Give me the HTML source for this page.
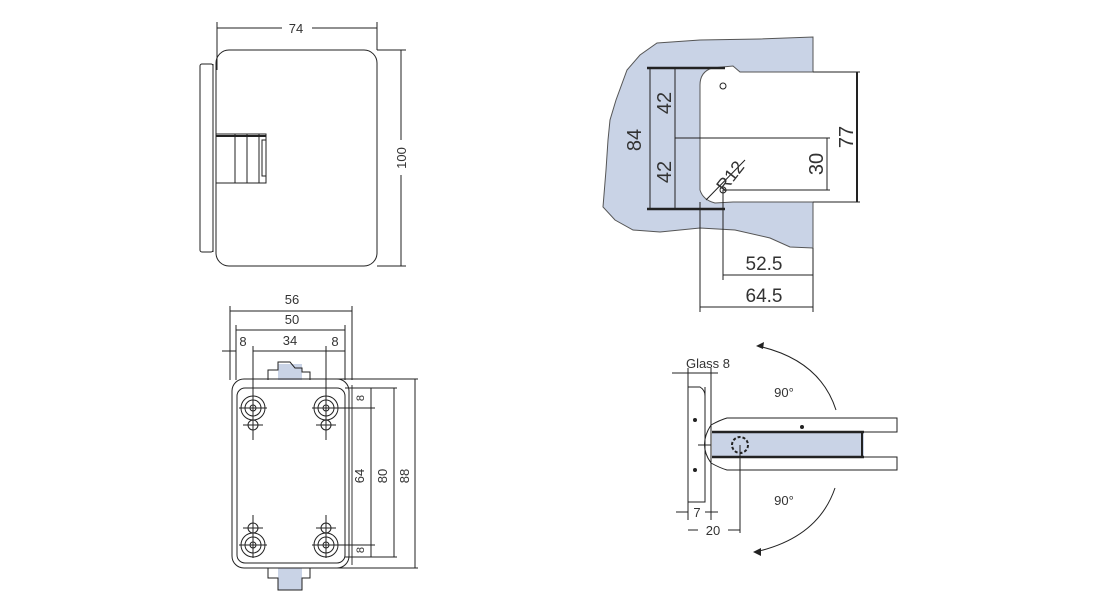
<!DOCTYPE html>
<html><head><meta charset="utf-8"><style>
html,body{margin:0;padding:0;background:#fff;width:1099px;height:600px;overflow:hidden}
svg{display:block}
text{font-family:"Liberation Sans",sans-serif;fill:#333}
</style></head><body>
<svg width="1099" height="600" viewBox="0 0 1099 600" xmlns="http://www.w3.org/2000/svg">
<g fill="none" stroke="#222" stroke-width="1">
<!-- View 1 -->
<line x1="217" y1="22" x2="217" y2="70"/><line x1="377" y1="22" x2="377" y2="50"/>
<line x1="217" y1="28" x2="282" y2="28"/><line x1="312" y1="28" x2="377" y2="28"/>
<rect x="216" y="50" width="161" height="216" rx="13"/>
<rect x="200" y="64" width="13" height="188" rx="2"/>
<line x1="213" y1="64" x2="213" y2="252"/>
<rect x="216" y="134" width="50" height="49"/>
<line x1="235" y1="134" x2="235" y2="183"/><line x1="247" y1="134" x2="247" y2="183"/><line x1="259" y1="134" x2="259" y2="183"/>
<rect x="262" y="140" width="4" height="36"/>
<line x1="216" y1="136" x2="266" y2="136" stroke-width="2"/>
<line x1="377" y1="50" x2="406" y2="50"/><line x1="377" y1="266" x2="406" y2="266"/>
<line x1="401" y1="50" x2="401" y2="140"/><line x1="401" y1="175" x2="401" y2="266"/>
</g>
<text x="296" y="33" font-size="13" text-anchor="middle">74</text>
<text transform="translate(406,158) rotate(-90)" font-size="13" text-anchor="middle">100</text>

<!-- View 2 -->
<path d="M657,43 L700,40 L760,39 L813,37 L813,72 L740,72 L733,66 L712,68 Q700,72 700,85 L700,190 Q703,200 715,203 L733,202 L813,202 L813,248 L790,247 L770,238 L735,230 L700,228 L660,232 L633,230 L615,220 L603,207 L606,170 L608,140 L610,120 L616,100 L627,70 L640,55 Z" fill="#c9d3e6" stroke="#555" stroke-width="1"/>
<g fill="none" stroke="#222" stroke-width="1">
<line x1="647" y1="68" x2="725" y2="68" stroke-width="2.5"/>
<line x1="647" y1="209" x2="725" y2="209" stroke-width="2.5"/>
<line x1="650" y1="68" x2="650" y2="209"/>
<line x1="675" y1="68" x2="675" y2="209"/>
<line x1="675" y1="138" x2="830" y2="138"/>
<line x1="813" y1="72" x2="860" y2="72"/><line x1="813" y1="202" x2="860" y2="202"/>
<line x1="857" y1="72" x2="857" y2="202" stroke-width="2"/>
<line x1="827" y1="138" x2="827" y2="190"/>
<line x1="723" y1="190" x2="830" y2="190"/>
<circle cx="723" cy="190" r="3"/>
<circle cx="723" cy="86" r="3"/>
<line x1="723" y1="190" x2="723" y2="280"/>
<line x1="700" y1="202" x2="700" y2="312"/>
<line x1="813" y1="248" x2="813" y2="312"/>
<line x1="723" y1="275" x2="813" y2="275"/>
<line x1="700" y1="307" x2="813" y2="307"/>
<line x1="706" y1="200" x2="745" y2="160"/>
</g>
<text transform="translate(641,140) rotate(-90)" font-size="20" text-anchor="middle">84</text>
<text transform="translate(671,103) rotate(-90)" font-size="20" text-anchor="middle">42</text>
<text transform="translate(671,172) rotate(-90)" font-size="20" text-anchor="middle">42</text>
<text transform="translate(853,137) rotate(-90)" font-size="20" text-anchor="middle">77</text>
<text transform="translate(823,164) rotate(-90)" font-size="20" text-anchor="middle">30</text>
<text transform="translate(735,180) rotate(-52)" font-size="18" text-anchor="middle">R12</text>
<text x="764" y="270" font-size="19" text-anchor="middle">52.5</text>
<text x="764" y="302" font-size="19" text-anchor="middle">64.5</text>

<!-- View 3 -->
<rect x="278" y="364" width="24" height="16" fill="#c9d3e6"/>
<rect x="278" y="568" width="24" height="22" fill="#c9d3e6"/>
<g fill="none" stroke="#222" stroke-width="1">
<path d="M268,380 L268,370 L278,370 L278,362 L290,362 L295,368 L302,368 L302,372 L310,372 L310,380"/>
<path d="M268,568 L268,578 L278,578 L278,590 L302,590 L302,578 L310,578 L310,568"/>
<line x1="230" y1="306" x2="230" y2="380"/><line x1="352" y1="306" x2="352" y2="380"/>
<line x1="230" y1="311" x2="352" y2="311"/>
<line x1="236" y1="325" x2="236" y2="380"/><line x1="345" y1="325" x2="345" y2="380"/>
<line x1="236" y1="330" x2="345" y2="330"/>
<line x1="253" y1="346" x2="253" y2="440"/><line x1="326" y1="346" x2="326" y2="440"/>
<line x1="253" y1="351" x2="326" y2="351"/>
<line x1="222" y1="351" x2="236" y2="351"/><line x1="326" y1="351" x2="345" y2="351"/>
<rect x="232" y="379" width="117" height="189" rx="12"/>
<rect x="237" y="388" width="108" height="175" rx="8"/>
<line x1="352" y1="385" x2="352" y2="565" stroke="#999" stroke-width="2"/>
<g id="h">
<circle cx="253" cy="408" r="12"/><circle cx="253" cy="408" r="8"/><circle cx="253" cy="408" r="3"/>
<line x1="239" y1="408" x2="267" y2="408"/>
<circle cx="253" cy="425" r="5"/><line x1="243" y1="425" x2="263" y2="425"/>
</g>
<use href="#h" x="73"/>
<g transform="translate(0,953) scale(1,-1)"><use href="#h"/><use href="#h" x="73"/></g>
<line x1="253" y1="515" x2="253" y2="558"/><line x1="326" y1="515" x2="326" y2="558"/>
<line x1="300" y1="379" x2="418" y2="379"/>
<line x1="345" y1="388" x2="397" y2="388"/>
<line x1="326" y1="408" x2="375" y2="408"/>
<line x1="326" y1="545" x2="375" y2="545"/>
<line x1="345" y1="557" x2="397" y2="557"/>
<line x1="300" y1="568" x2="418" y2="568"/>
<line x1="371" y1="388" x2="371" y2="557"/>
<line x1="394" y1="388" x2="394" y2="557"/>
<line x1="415" y1="379" x2="415" y2="568"/>
</g>
<text x="292" y="304" font-size="13" text-anchor="middle">56</text>
<text x="292" y="324" font-size="13" text-anchor="middle">50</text>
<text x="290" y="345" font-size="13" text-anchor="middle">34</text>
<text x="243" y="346" font-size="13" text-anchor="middle">8</text>
<text x="335" y="346" font-size="13" text-anchor="middle">8</text>
<text transform="translate(364,476) rotate(-90)" font-size="13" text-anchor="middle">64</text>
<text transform="translate(387,476) rotate(-90)" font-size="13" text-anchor="middle">80</text>
<text transform="translate(409,476) rotate(-90)" font-size="13" text-anchor="middle">88</text>
<text transform="translate(364,398) rotate(-90)" font-size="11" text-anchor="middle">8</text>
<text transform="translate(364,550) rotate(-90)" font-size="11" text-anchor="middle">8</text>

<!-- View 4 -->
<rect x="712" y="432" width="152" height="25" fill="#c9d3e6"/>
<g fill="none" stroke="#222" stroke-width="1">
<line x1="688" y1="368" x2="688" y2="520"/><line x1="711" y1="368" x2="711" y2="520"/>
<line x1="672" y1="373" x2="718" y2="373"/>
<path d="M688,387 L700,387 Q705,390 705,396 L705,502 L688,502"/>
<line x1="705" y1="387" x2="705" y2="502"/>
<path d="M711,425 Q720,420 727,418 L897,418 L897,432 L727,432"/>
<path d="M711,463 Q720,468 727,470 L897,470 L897,457 L727,457"/>
<path d="M711,425 Q698,445 711,463"/>
<line x1="698" y1="445" x2="711" y2="445"/>
<line x1="712" y1="432" x2="864" y2="432" stroke-width="2.5"/>
<line x1="712" y1="457" x2="864" y2="457" stroke-width="2.5"/>
<line x1="862" y1="432" x2="862" y2="457" stroke-width="2"/>
<circle cx="740" cy="445" r="8" stroke-dasharray="3 2" stroke-width="2"/>
<line x1="740" y1="445" x2="740" y2="533"/>
<line x1="676" y1="512" x2="688" y2="512"/><line x1="705" y1="512" x2="718" y2="512"/>
<line x1="688" y1="530" x2="698" y2="530"/><line x1="728" y1="530" x2="740" y2="530"/>
<path d="M758,346 Q820,360 836,410"/>
<path d="M835,488 Q818,538 755,552"/>
</g>
<circle cx="802" cy="427" r="2" fill="#222"/>
<circle cx="695" cy="420" r="2" fill="#222"/><circle cx="695" cy="470" r="2" fill="#222"/>
<path d="M756,346 l8,-4 l-1,7 z M753,552 l8,-4 l0,8 z" fill="#222"/>
<text x="708" y="368" font-size="13" text-anchor="middle">Glass 8</text>
<text x="784" y="397" font-size="13" text-anchor="middle">90°</text>
<text x="784" y="505" font-size="13" text-anchor="middle">90°</text>
<text x="697" y="517" font-size="13" text-anchor="middle">7</text>
<text x="713" y="535" font-size="13" text-anchor="middle">20</text>
</svg>
</body></html>
